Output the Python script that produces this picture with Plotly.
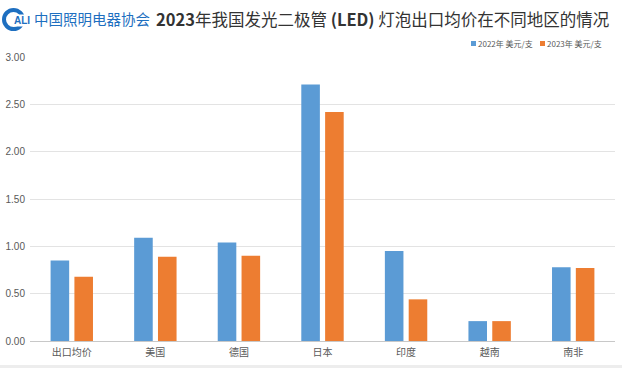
import plotly.graph_objects as go

categories = ["出口均价", "美国", "德国", "日本", "印度", "越南", "南非"]
values_2022 = [0.85, 1.09, 1.04, 2.71, 0.95, 0.21, 0.78]
values_2023 = [0.68, 0.89, 0.90, 2.42, 0.44, 0.21, 0.77]
series_names = ["2022年 美元/支", "2023年 美元/支"]
series_colors = ["#5B9BD5", "#ED7D31"]
y_ticks = [0, 0.5, 1.0, 1.5, 2.0, 2.5, 3.0]

W, H = 622, 368
ml, mr, mt, mb = 30, 7, 57, 27
PW, PH = W - ml - mr, H - mt - mb


def px(x):
    return (x - ml) / PW


def py(y):
    return 1 - (y - mt) / PH


fig = go.Figure()
fig.add_trace(go.Bar(x=categories, y=values_2022, name=series_names[0],
                     marker=dict(color=series_colors[0], line=dict(width=0))))
fig.add_trace(go.Bar(x=categories, y=values_2023, name=series_names[1],
                     marker=dict(color=series_colors[1], line=dict(width=0))))

fig.update_layout(
    width=W, height=H,
    margin=dict(l=ml, r=mr, t=mt, b=mb, pad=0, autoexpand=False),
    paper_bgcolor="white", plot_bgcolor="white",
    barmode="group", bargap=0.43, bargroupgap=0.22,
    showlegend=False,
    font=dict(family="Noto Sans CJK SC", color="#595959"),
)
fig.update_yaxes(range=[0, 3.0], tickvals=y_ticks, tickformat=".2f",
                 showgrid=True, gridcolor="#E3E3E3", gridwidth=1,
                 zeroline=False, showline=False, ticks="",
                 tickfont=dict(family="Liberation Sans", size=10, color="#595959"),
                 ticklabelstandoff=4)
fig.update_xaxes(showline=True, linecolor="#C8C8C8", linewidth=1, ticks="",
                 tickfont=dict(family="Noto Sans CJK SC", size=10, color="#595959"),
                 ticklabelstandoff=2)

# manual legend
leg_items = [(471, 477), (540, 546)]
for (sx, tx), name, col in zip(leg_items, series_names, series_colors):
    fig.add_shape(type="rect", xref="paper", yref="paper",
                  x0=px(sx), x1=px(sx + 5), y0=py(46), y1=py(41),
                  fillcolor=col, line=dict(width=0))
    fig.add_annotation(text=name, xref="paper", yref="paper", x=px(tx), xanchor="left",
                       y=py(43.5), yanchor="middle", showarrow=False, borderpad=0,
                       font=dict(family="Noto Sans CJK SC", size=8, color="#595959"))

# title
fig.add_annotation(text="<b>2023</b>年我国发光二极管 <b>(LED)</b> 灯泡出口均价在不同地区的情况",
                   xref="paper", yref="paper", x=px(155), xanchor="left",
                   y=py(19), yanchor="middle", showarrow=False, borderpad=0,
                   font=dict(family="Noto Sans CJK SC", size=16.5, color="#333333"))
# logo
fig.add_shape(type="circle", xref="paper", yref="paper",
              x0=px(4), x1=px(23), y0=py(29), y1=py(10),
              line=dict(color="#1E6FC0", width=4))
fig.add_annotation(text="<b>ALI</b>", xref="paper", yref="paper",
                   x=px(13), xanchor="left", y=py(20), yanchor="middle", showarrow=False,
                   bgcolor="white", borderpad=0,
                   font=dict(family="Liberation Sans", size=10, color="#1E6FC0"))
fig.add_annotation(text="中国照明电器协会", xref="paper", yref="paper",
                   x=px(33), xanchor="left", y=py(19), yanchor="middle", showarrow=False,
                   borderpad=0,
                   font=dict(family="Noto Sans CJK SC", size=14.5, color="#1E6FC0"))
# bottom band
fig.add_shape(type="rect", xref="paper", yref="paper",
              x0=px(0), x1=px(W), y0=py(H), y1=py(H - 3),
              fillcolor="#EDEDED", line=dict(width=0), layer="below")

fig.write_html("out.html", config={"displayModeBar": False},
               post_script="document.body.style.margin='0px';")
